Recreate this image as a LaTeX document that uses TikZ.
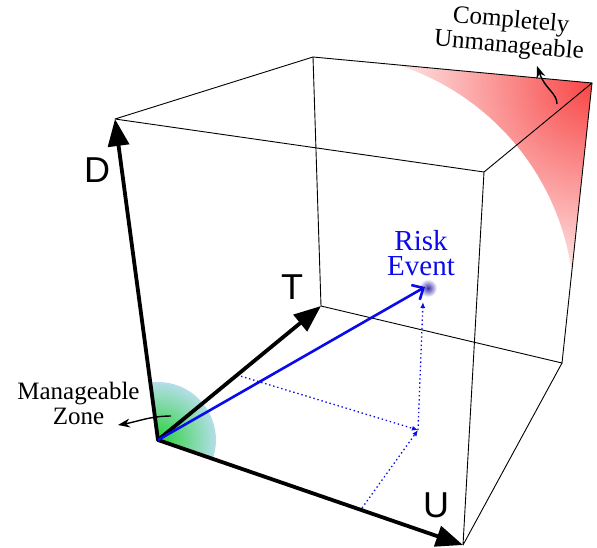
\documentclass[tikz,border=0pt]{standalone}
\usepackage{fontspec}
\setmainfont{Liberation Serif}
\newfontfamily\axisfont{Liberation Sans}
\usetikzlibrary{arrows.meta,calc}
\definecolor{redcore}{RGB}{248,70,70}
\definecolor{greencore}{RGB}{40,210,55}
\definecolor{greenedge}{RGB}{180,222,232}
\definecolor{glowc}{RGB}{55,45,165}
\definecolor{evblue}{RGB}{10,10,235}
\tikzset{
 edge/.style={line width=0.9pt, line join=round, line cap=round},
 axis/.style={line width=3.8pt, line cap=round, -{Triangle[length=27pt,width=21pt]}},
 axislabel/.style={font=\axisfont\fontsize{36}{36}\selectfont, inner sep=0pt},
 riskvec/.style={evblue, line width=2.6pt, -{Straight Barb[length=9pt,width=17pt]}},
 proj/.style={evblue, line width=1.3pt, dash pattern=on 1.4pt off 2.8pt, -{Latex[length=6pt,width=5pt]}},
 callout/.style={line width=1.4pt, -{Stealth[length=12pt,width=9pt]}},
 serifl/.style={font=\fontsize{25}{25}\selectfont, align=center, inner sep=0pt},
}
\begin{document}
\begin{tikzpicture}[x=1pt,y=-1pt]
\useasboundingbox (0,0) rectangle (597,547);
\coordinate (O) at (158,440);
\coordinate (ftl) at (115,119);
\coordinate (btl) at (313,57);
\coordinate (btr) at (592,83);
\coordinate (ftr) at (484,172);
\coordinate (fbr) at (463,545);
\coordinate (bbr) at (562,363);
\coordinate (bbl) at (321,306);
\coordinate (ev) at (425,287);
\coordinate (glow) at (428,288);
\coordinate (q) at (418,430);
\coordinate (pt) at (237,375);
\coordinate (pu) at (362,508);
\coordinate (qtop) at (423,302);
\coordinate (ra) at (397.6,64.9);
\coordinate (rb) at (571.7,272.2);
% red zone
\begin{scope}
\clip (ra) -- (btr) -- (rb) arc[start angle=-7.68, end angle=-72.37, radius=253] -- cycle;
\shade[inner color=redcore, outer color=white] (btr) circle (225);
\end{scope}
% green zone
\begin{scope}
\clip (O) -- ++(19:58) arc[start angle=19, end angle=-97.6, radius=58] -- cycle;
\shade[inner color=greencore, outer color=greenedge] (O) circle (58);
\end{scope}
% glow
\shade[inner color=glowc, outer color=white] (glow) circle (9);
% edges
\draw[edge] (ftl) -- (btl) -- (btr) -- (ftr) -- cycle;
\draw[edge] (ftr) -- (fbr) -- (bbr) -- (btr);
\draw[edge] (btl) -- (bbl) -- (bbr);
% projections
\draw[proj] (pt) -- (q);
\draw[proj] (pu) -- (q);
\draw[proj] (q) -- (qtop);
% axes
\draw[axis] (O) -- (ftl);
\draw[axis] (O) -- (bbl);
\draw[axis] (O) -- (fbr);
\draw[riskvec] (O) -- (ev);
% labels
\node[axislabel] (dl) at (97,170) {D};
\node[axislabel] (tl) at (292,287) {T};
\node[axislabel] (ul) at (436,505) {U};
\node[serifl, text=evblue, font=\fontsize{29}{25}\selectfont] (risk) at (421,253) {Risk\\Event};
\node[serifl] (mz) at (78.5,403) {Manageable\\Zone};
\node[serifl, rotate=-5] (cu) at (510,34) {Completely\\Unmanageable};
% callouts
\coordinate (m1) at (171,416);
\coordinate (m2) at (118,425);
\draw[callout] (m1) .. controls (150,416) and (136,422) .. (m2);
\coordinate (c1) at (557,104);
\coordinate (c2) at (537,66);
\draw[callout] (c1) .. controls (557,93) and (545,89) .. (c2);
\end{tikzpicture}
\end{document}
